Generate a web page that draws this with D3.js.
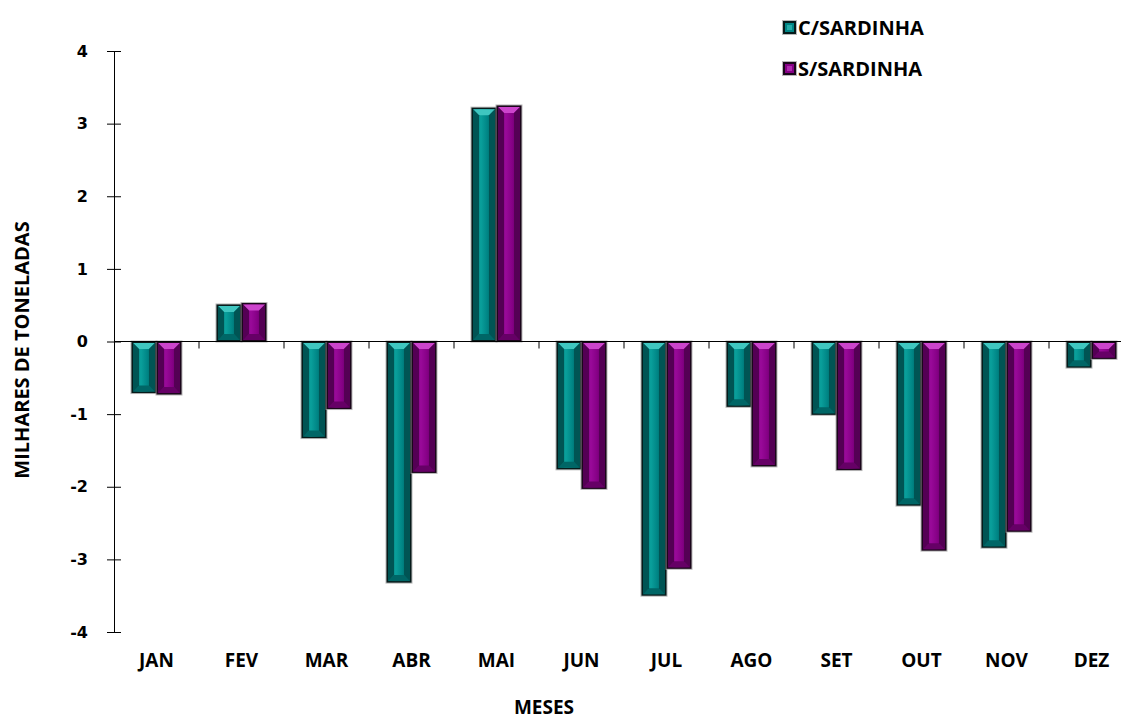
<!DOCTYPE html>
<html>
<head>
<meta charset="utf-8">
<script src="https://cdn.jsdelivr.net/npm/d3@7"></script>
<style>
  body { margin: 0; background: #fff; }
  svg { display: block; }
  .lbl { font-family: "Open Sans", sans-serif; font-weight: bold; fill: #000; }
  .ytick { font-family: "DejaVu Sans", sans-serif; font-weight: bold; fill: #000; }
</style>
</head>
<body>
<svg id="chart" width="1121" height="722"></svg>
<script>
// months and the two series, thousands of tonnes
var meses = ["JAN", "FEV", "MAR", "ABR", "MAI", "JUN", "JUL", "AGO", "SET", "OUT", "NOV", "DEZ"];
var series = ["C/SARDINHA", "S/SARDINHA"];
var cSardinha = [-0.71, 0.51, -1.33, -3.32, 3.22, -1.76, -3.50, -0.90, -1.01, -2.26, -2.84, -0.36];
var sSardinha = [-0.73, 0.53, -0.93, -1.81, 3.25, -2.03, -3.13, -1.72, -1.77, -2.88, -2.62, -0.24];
var yTicks = [-4, -3, -2, -1, 0, 1, 2, 3, 4];

// colours per series: frame, face, light face, top bevel, side bevel, bottom bevel
var pal = {
  "C/SARDINHA": {edge: "#061a1a", face: "#008585", lite: "#0aa09c", top: "#3fc6c0", side: "#005454", bot: "#006666"},
  "S/SARDINHA": {edge: "#1a061a", face: "#850085", lite: "#9a0a9a", top: "#cc44cc", side: "#540054", bot: "#660066"}
};

var svg = d3.select("#chart");
var defs = svg.append("defs");

series.forEach(function(s, i) {
  var g = defs.append("linearGradient").attr("id", "grad" + i)
    .attr("x1", "0%").attr("x2", "100%").attr("y1", "0%").attr("y2", "0%");
  g.append("stop").attr("offset", "0%").attr("stop-color", pal[s].side);
  g.append("stop").attr("offset", "35%").attr("stop-color", pal[s].lite);
  g.append("stop").attr("offset", "65%").attr("stop-color", pal[s].face);
  g.append("stop").attr("offset", "100%").attr("stop-color", pal[s].side);
});

var x = d3.scaleBand().domain(meses).range([114, 1134]);
var xs = d3.scaleBand().domain(series).range([17.5, 67.5]);
var y = d3.scaleLinear().domain([-4, 4]).range([632, 51]);

var rows = meses.map(function(m, i) {
  return {mes: m, vals: [{s: series[0], v: cSardinha[i], k: 0}, {s: series[1], v: sSardinha[i], k: 1}]};
});

// draw a bevelled box: dark frame, gradient face, light top wedge, darker sides/bottom
function bevel(g, bx, by, w, h, s, k) {
  var c = pal[s];
  g.append("rect").attr("x", bx - 1).attr("y", by - 1).attr("width", w + 2).attr("height", h + 2)
    .attr("fill", "#9a9a9a").attr("opacity", 0.7);
  g.append("rect").attr("x", bx).attr("y", by).attr("width", w).attr("height", h).attr("fill", c.edge);
  var f = 1.5;
  var ix = bx + f, iy = by + f, iw = w - 2 * f, ih = h - 2 * f;
  if (iw <= 0 || ih <= 0) return;
  g.append("rect").attr("x", ix).attr("y", iy).attr("width", iw).attr("height", ih)
    .attr("fill", "url(#grad" + k + ")");
  var d = Math.min(6, iw / 2, ih / 2);
  var poly = function(pts, col) {
    g.append("polygon").attr("points", pts.map(function(p) { return p.join(","); }).join(" "))
      .attr("fill", col);
  };
  poly([[ix, iy], [ix + iw, iy], [ix + iw - d, iy + d], [ix + d, iy + d]], c.top);
  poly([[ix, iy + ih], [ix + iw, iy + ih], [ix + iw - d, iy + ih - d], [ix + d, iy + ih - d]], c.bot);
  poly([[ix, iy], [ix + d, iy + d], [ix + d, iy + ih - d], [ix, iy + ih]], c.side);
  poly([[ix + iw, iy], [ix + iw - d, iy + d], [ix + iw - d, iy + ih - d], [ix + iw, iy + ih]], c.side);
}

var groups = svg.append("g").selectAll("g").data(rows).join("g")
  .attr("transform", function(d) { return "translate(" + x(d.mes) + ",0)"; });

groups.each(function(d) {
  var g = d3.select(this);
  d.vals.forEach(function(e) {
    var y0 = y(Math.max(0, e.v)), y1 = y(Math.min(0, e.v));
    bevel(g, xs(e.s), y0, xs.bandwidth(), y1 - y0, e.s, e.k);
  });
});

// y axis: ticks cross the line
var yAx = svg.append("g").attr("transform", "translate(114,0)")
  .call(d3.axisLeft(y).tickValues(yTicks).tickFormat(function(d) { return String(d); })
    .tickSizeInner(7).tickSizeOuter(0));
yAx.select(".domain").attr("stroke", "#000");
yAx.selectAll(".tick line").attr("x1", -7).attr("x2", 7).attr("stroke", "#000");
yAx.selectAll(".tick text").attr("class", "ytick").attr("x", -26).attr("text-anchor", "end")
  .style("font-size", "16px");

// x axis at zero, ticks at band boundaries
svg.append("line").attr("x1", 114).attr("x2", 1121).attr("y1", y(0)).attr("y2", y(0))
  .attr("stroke", "#000");
svg.append("g").selectAll("line").data(meses.slice(1)).join("line")
  .attr("x1", function(d) { return x(d); }).attr("x2", function(d) { return x(d); })
  .attr("y1", y(0)).attr("y2", y(0) + 7).attr("stroke", "#000");

svg.append("g").selectAll("text").data(meses).join("text")
  .attr("class", "lbl")
  .attr("x", function(d) { return x(d) + x.bandwidth() / 2; })
  .attr("y", 667)
  .attr("text-anchor", "middle")
  .style("font-size", "19px")
  .text(function(d) { return d; });

svg.append("text").attr("class", "lbl")
  .attr("x", 544).attr("y", 707).attr("dy", "0.35em").attr("text-anchor", "middle")
  .style("font-size", "19px").text("MESES");

svg.append("text").attr("class", "lbl")
  .attr("transform", "translate(29,350) rotate(-90)")
  .attr("text-anchor", "middle")
  .style("font-size", "20px").text("MILHARES DE TONELADAS");

// legend
var leg = svg.append("g").selectAll("g").data(series).join("g")
  .attr("transform", function(d, i) { return "translate(783," + (21 + i * 41) + ")"; });
leg.each(function(s, i) {
  var g = d3.select(this);
  var c = pal[s];
  g.append("rect").attr("x", -1).attr("y", -1).attr("width", 15).attr("height", 15).attr("fill", "#9a9a9a").attr("opacity", 0.7);
  g.append("rect").attr("width", 13).attr("height", 13).attr("fill", c.edge);
  g.append("rect").attr("x", 2).attr("y", 2).attr("width", 9).attr("height", 9).attr("fill", c.face);
  g.append("rect").attr("x", 4).attr("y", 4).attr("width", 5).attr("height", 5).attr("fill", c.top).attr("opacity", 0.6);
});
leg.append("text").attr("class", "lbl")
  .attr("x", 15).attr("y", 6.5).attr("dy", "0.35em")
  .style("font-size", "20px")
  .text(function(d) { return d; });
</script>
</body>
</html>
